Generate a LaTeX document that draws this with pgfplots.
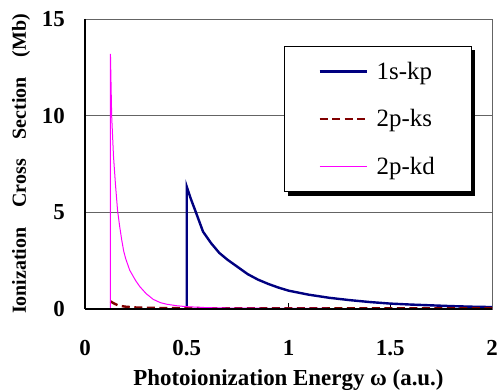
\documentclass[border=0pt]{standalone}
\usepackage{fontspec}
\setmainfont{Liberation Serif}
\usepackage{pgfplots}
\pgfplotsset{compat=1.18}
\definecolor{navy}{RGB}{0,0,128}
\definecolor{dred}{RGB}{128,0,0}
\definecolor{pink}{RGB}{255,0,255}
\definecolor{gridg}{RGB}{100,100,100}
\begin{document}
\begin{tikzpicture}[x=1bp,y=1bp]
\begin{axis}[
 name=ax,
 at={(85bp,80bp)}, anchor=south west,
 scale only axis, width=407bp, height=290bp,
 xmin=0, xmax=2, ymin=0, ymax=15,
 xtick={0,0.5,1,1.5,2}, ytick={0,5,10,15},
 xticklabels={0,0.5,1,1.5,2}, yticklabels={0,5,10,15},
 ymajorgrids, grid style={gridg, line width=0.8bp},
 axis line style={gridg, line width=0.8bp},
 tick align=inside, tick pos=left,
 major tick length=6bp,
 xtick style={black, line width=0.8bp},
 ytick style={draw=none},
 /pgf/number format/assume math mode=true,
 xticklabel style={font=\bfseries\fontsize{23}{23}\selectfont, anchor=north, inner sep=0pt, yshift=-31bp},
 yticklabel style={font=\bfseries\fontsize{23}{23}\selectfont, anchor=east, inner sep=0pt, xshift=-20bp},
 xlabel={Photoionization Energy ω (a.u.)},
 xlabel style={at={(axis description cs:0.5,0)}, anchor=base, yshift=-76bp, font=\bfseries\fontsize{23}{27}\selectfont},
 ylabel={Ionization\hspace{1em}Cross\hspace{1em}Section\hspace{1em}(Mb)},
 ylabel style={at={(axis description cs:0,0.5)}, anchor=base, yshift=59bp, font=\bfseries\fontsize{20}{24}\selectfont},
 legend cell align=left,
 legend image code/.code={\draw[#1] (0bp,0bp) -- (47bp,0bp);},
 legend style={name=leg, at={(axis description cs:0.489,0.4035)}, anchor=south west,
   draw=black, line width=0.6bp, fill=white,
   inner xsep=34bp, inner ysep=13.5bp,
   column sep=7bp, row sep=25.3bp,
   cells={anchor=west, inner sep=0pt, text height=17bp, text depth=5.5bp, font=\fontsize{25}{25}\selectfont}},
]
\addplot[navy, line width=2.4bp] coordinates {
(0.5,0) (0.5,6.33) (0.52,5.7) (0.545,5.0) (0.58,4.0) (0.62,3.4) (0.66,2.9)
(0.7,2.55) (0.76,2.1) (0.8,1.8) (0.85,1.52) (0.9,1.3) (0.95,1.11) (1.0,0.95)
(1.1,0.74) (1.2,0.58) (1.3,0.46) (1.4,0.36) (1.5,0.28) (1.6,0.23) (1.7,0.19)
(1.8,0.15) (1.9,0.12) (2.0,0.10)};
\addlegendentry{1s-kp}
\addplot[dred, line width=2.4bp, dash pattern=on 8bp off 4.5bp] coordinates {
(0.125,0.4) (0.14,0.3) (0.16,0.2) (0.18,0.15) (0.2,0.12) (0.25,0.08) (0.3,0.06)
(0.4,0.05) (0.6,0.04) (1,0.03) (1.5,0.03) (2,0.03)};
\addlegendentry{2p-ks}
\addplot[pink, line width=1bp] coordinates {
(0.125,0) (0.125,13.2) (0.131,10) (0.14,7.9) (0.15,6.4) (0.16,5.1) (0.17,4.3)
(0.18,3.6) (0.19,3.0) (0.2,2.6) (0.22,2.0) (0.25,1.45) (0.27,1.15) (0.3,0.8)
(0.335,0.5) (0.37,0.33) (0.4,0.25) (0.45,0.17) (0.5,0.12) (0.6,0.07) (0.7,0.05)
(1,0.03) (1.5,0.02) (2,0.015)};
\addlegendentry{2p-kd}
\end{axis}
\draw[black, line width=1.5bp] (ax.north west) -- (ax.south west);
\draw[black, line width=2bp] (ax.south west) -- (ax.south east);
\fill[black] ([yshift=-4bp]leg.north east) rectangle ([xshift=4bp,yshift=-4bp]leg.south east);
\fill[black] ([xshift=4bp]leg.south west) rectangle ([xshift=4bp,yshift=-4bp]leg.south east);
\pgfresetboundingbox
\useasboundingbox (0,0) rectangle (497,389);
\end{tikzpicture}
\end{document}
